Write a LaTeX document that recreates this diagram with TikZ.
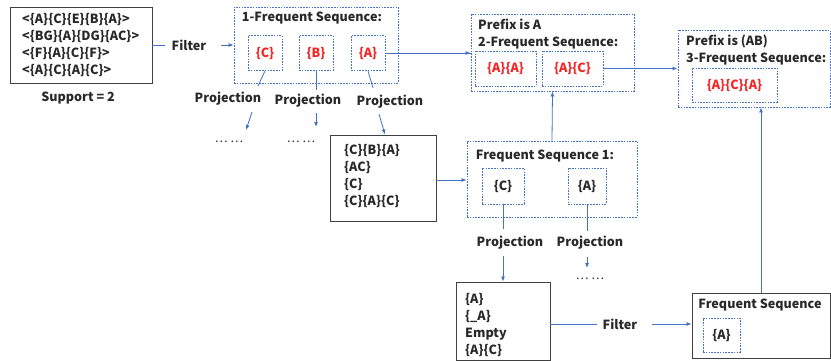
\documentclass[tikz,border=0pt]{standalone}
\usepackage{fontspec}
\setmainfont{Noto Sans CJK SC}
\usetikzlibrary{arrows.meta}
\definecolor{lblue}{RGB}{68,114,196}
\definecolor{tred}{RGB}{245,35,35}
\definecolor{tgray}{RGB}{40,40,40}
\tikzset{
  solidbox/.style={draw=black!75, line width=0.9pt, rectangle, inner sep=0pt},
  dashbox/.style={draw=lblue, dashed, dash pattern=on 1.6pt off 1.2pt, line width=0.9pt, rectangle, inner sep=0pt},
  txt/.style={text=tgray, font=\fontsize{12.6}{17.2}\selectfont\bfseries, inner sep=1pt},
  redtxt/.style={text=tred, font=\fontsize{12.6}{17.2}\selectfont\bfseries},
  dots/.style={text=tgray, font=\fontsize{12}{17}\selectfont, inner sep=1pt},
  conn/.style={draw=lblue, line width=0.8pt},
  arr/.style={conn, -{Latex[length=5pt,width=4pt]}},
}
\begin{document}
\begin{tikzpicture}[x=1pt,y=-1pt]
\useasboundingbox (0,0) rectangle (831,360);
% input box
\node[solidbox, minimum width=142pt, minimum height=76pt] (in) at (81,45) {};
\node[txt, anchor=west, align=left] (intxt) at (21,45) {<\{A\}\{C\}\{E\}\{B\}\{A\}>\\<\{BG\}\{A\}\{DG\}\{AC\}>\\<\{F\}\{A\}\{C\}\{F\}>\\<\{A\}\{C\}\{A\}\{C\}>};
\node[txt] (sup) at (78,98) {Support = 2};
\node[txt] (filt1) at (189,45) {Filter};
% 1-frequent
\node[dashbox, minimum width=164pt, minimum height=76pt] (f1) at (316,45) {};
\node[txt] (f1t) at (312,18) {1-Frequent Sequence:};
\node[dashbox, minimum width=34pt, minimum height=35pt, redtxt] (c1) at (265,53) {\{C\}};
\node[dashbox, minimum width=34pt, minimum height=35pt, redtxt] (b1) at (316,53) {\{B\}};
\node[dashbox, minimum width=34pt, minimum height=35pt, redtxt] (a1) at (368,53) {\{A\}};
\node[txt] (p1) at (228,99) {Projection};
\node[txt] (p2) at (308,101) {Projection};
\node[txt] (p3) at (390,102) {Projection};
\node[dots] (d1) at (229,142) {\dots\ \dots};
\node[dots] (d2) at (301,142) {\dots\ \dots};
\coordinate (c1e) at (258,86);
\coordinate (p1s) at (252,112);
\coordinate (b1e) at (316,90);
\coordinate (p2s) at (316,113);
\coordinate (a1e) at (373,88);
\coordinate (p3s) at (379,114);
\draw[conn] (c1.south) -- (c1e);
\draw[arr] (p1s) -- (246,130);
\draw[conn] (b1.south) -- (b1e);
\draw[arr] (p2s) -- (316,127);
\draw[conn] (a1.south) -- (a1e);
% box2
\node[solidbox, minimum width=106pt, minimum height=86pt] (b2) at (383,178) {};
\node[txt, anchor=west, align=left] (b2t) at (343,176) {\{C\}\{B\}\{A\}\\\{AC\}\\\{C\}\\\{C\}\{A\}\{C\}};
\draw[arr] (p3s) -- (b2.north -| 385,0);
% prefix A
\node[dashbox, minimum width=163pt, minimum height=77pt] (pa) at (552.5,52.5) {};
\node[txt, anchor=west, align=left] (pat) at (477,34) {Prefix is A\\2-Frequent Sequence:};
\node[dashbox, minimum width=61pt, minimum height=35pt, redtxt] (aa) at (505.5,68.5) {\{A\}\{A\}};
\node[dashbox, minimum width=61pt, minimum height=35pt, redtxt] (ac) at (572.5,68.5) {\{A\}\{C\}};
% prefix AB
\node[dashbox, minimum width=152pt, minimum height=77pt] (pab) at (754,68.5) {};
\node[txt, anchor=west, align=left] (pabt) at (685,50) {Prefix is (AB)\\3-Frequent Sequence:};
\node[dashbox, minimum width=85pt, minimum height=34pt, redtxt] (aca) at (734.5,85) {\{A\}\{C\}\{A\}};
% FS1
\node[dashbox, minimum width=170pt, minimum height=76pt] (fs1) at (552,179) {};
\node[txt] (fs1t) at (545,156) {Frequent Sequence 1:};
\node[dashbox, minimum width=42pt, minimum height=36pt, txt] (c2) at (503,186) {\{C\}};
\node[dashbox, minimum width=38pt, minimum height=36pt, txt] (a2) at (587,186) {\{A\}};
\node[txt] (p4) at (510,243) {Projection};
\node[txt] (p5) at (590,243) {Projection};
\node[dots] (d3) at (590,279) {\dots\ \dots};
\coordinate (c2e) at (503,229);
\coordinate (p4s) at (503,256);
\coordinate (a2e) at (587,231);
\coordinate (p5s) at (587,257);
\draw[conn] (c2.south) -- (c2e);
\draw[conn] (a2.south) -- (a2e);
\draw[arr] (p5s) -- (587,268);
% box3
\node[solidbox, minimum width=94pt, minimum height=78pt] (b3) at (503,321) {};
\node[txt, anchor=west, align=left] (b3t) at (464,325) {\{A\}\\\{\_A\}\\Empty\\\{A\}\{C\}};
\draw[arr] (p4s) -- (b3.north);
\node[txt] (filt2) at (620,324) {Filter};
% final FS
\node[solidbox, minimum width=138pt, minimum height=65pt] (fs) at (761,325.5) {};
\node[txt] (fst) at (760,305) {Frequent Sequence};
\node[dashbox, minimum width=37pt, minimum height=34pt, txt] (a3) at (721.5,335) {\{A\}};
% connectors
\draw[conn] (in.east) -- (165,45);
\draw[arr] (221,45) -- (f1.west);
\draw[conn] (a1.east) -- (pa.west |- a1.east);
\draw[arr] (pa.west |- a1.east) ++(-8,0) -- (pa.west |- a1.east);
\draw[arr] (b2.east |- 0,180) -- (fs1.west |- 0,180);
\draw[arr] (fs1.north) -- (pa.south);
\draw[arr] (ac.east) -- (pab.west |- ac.east);
\draw[conn] (b3.east |- 0,324) -- (597,324);
\draw[arr] (652,324) -- (fs.west |- 0,324);
\draw[arr] (fs.north) -- (pab.south -| fs.north);
\end{tikzpicture}
\end{document}
